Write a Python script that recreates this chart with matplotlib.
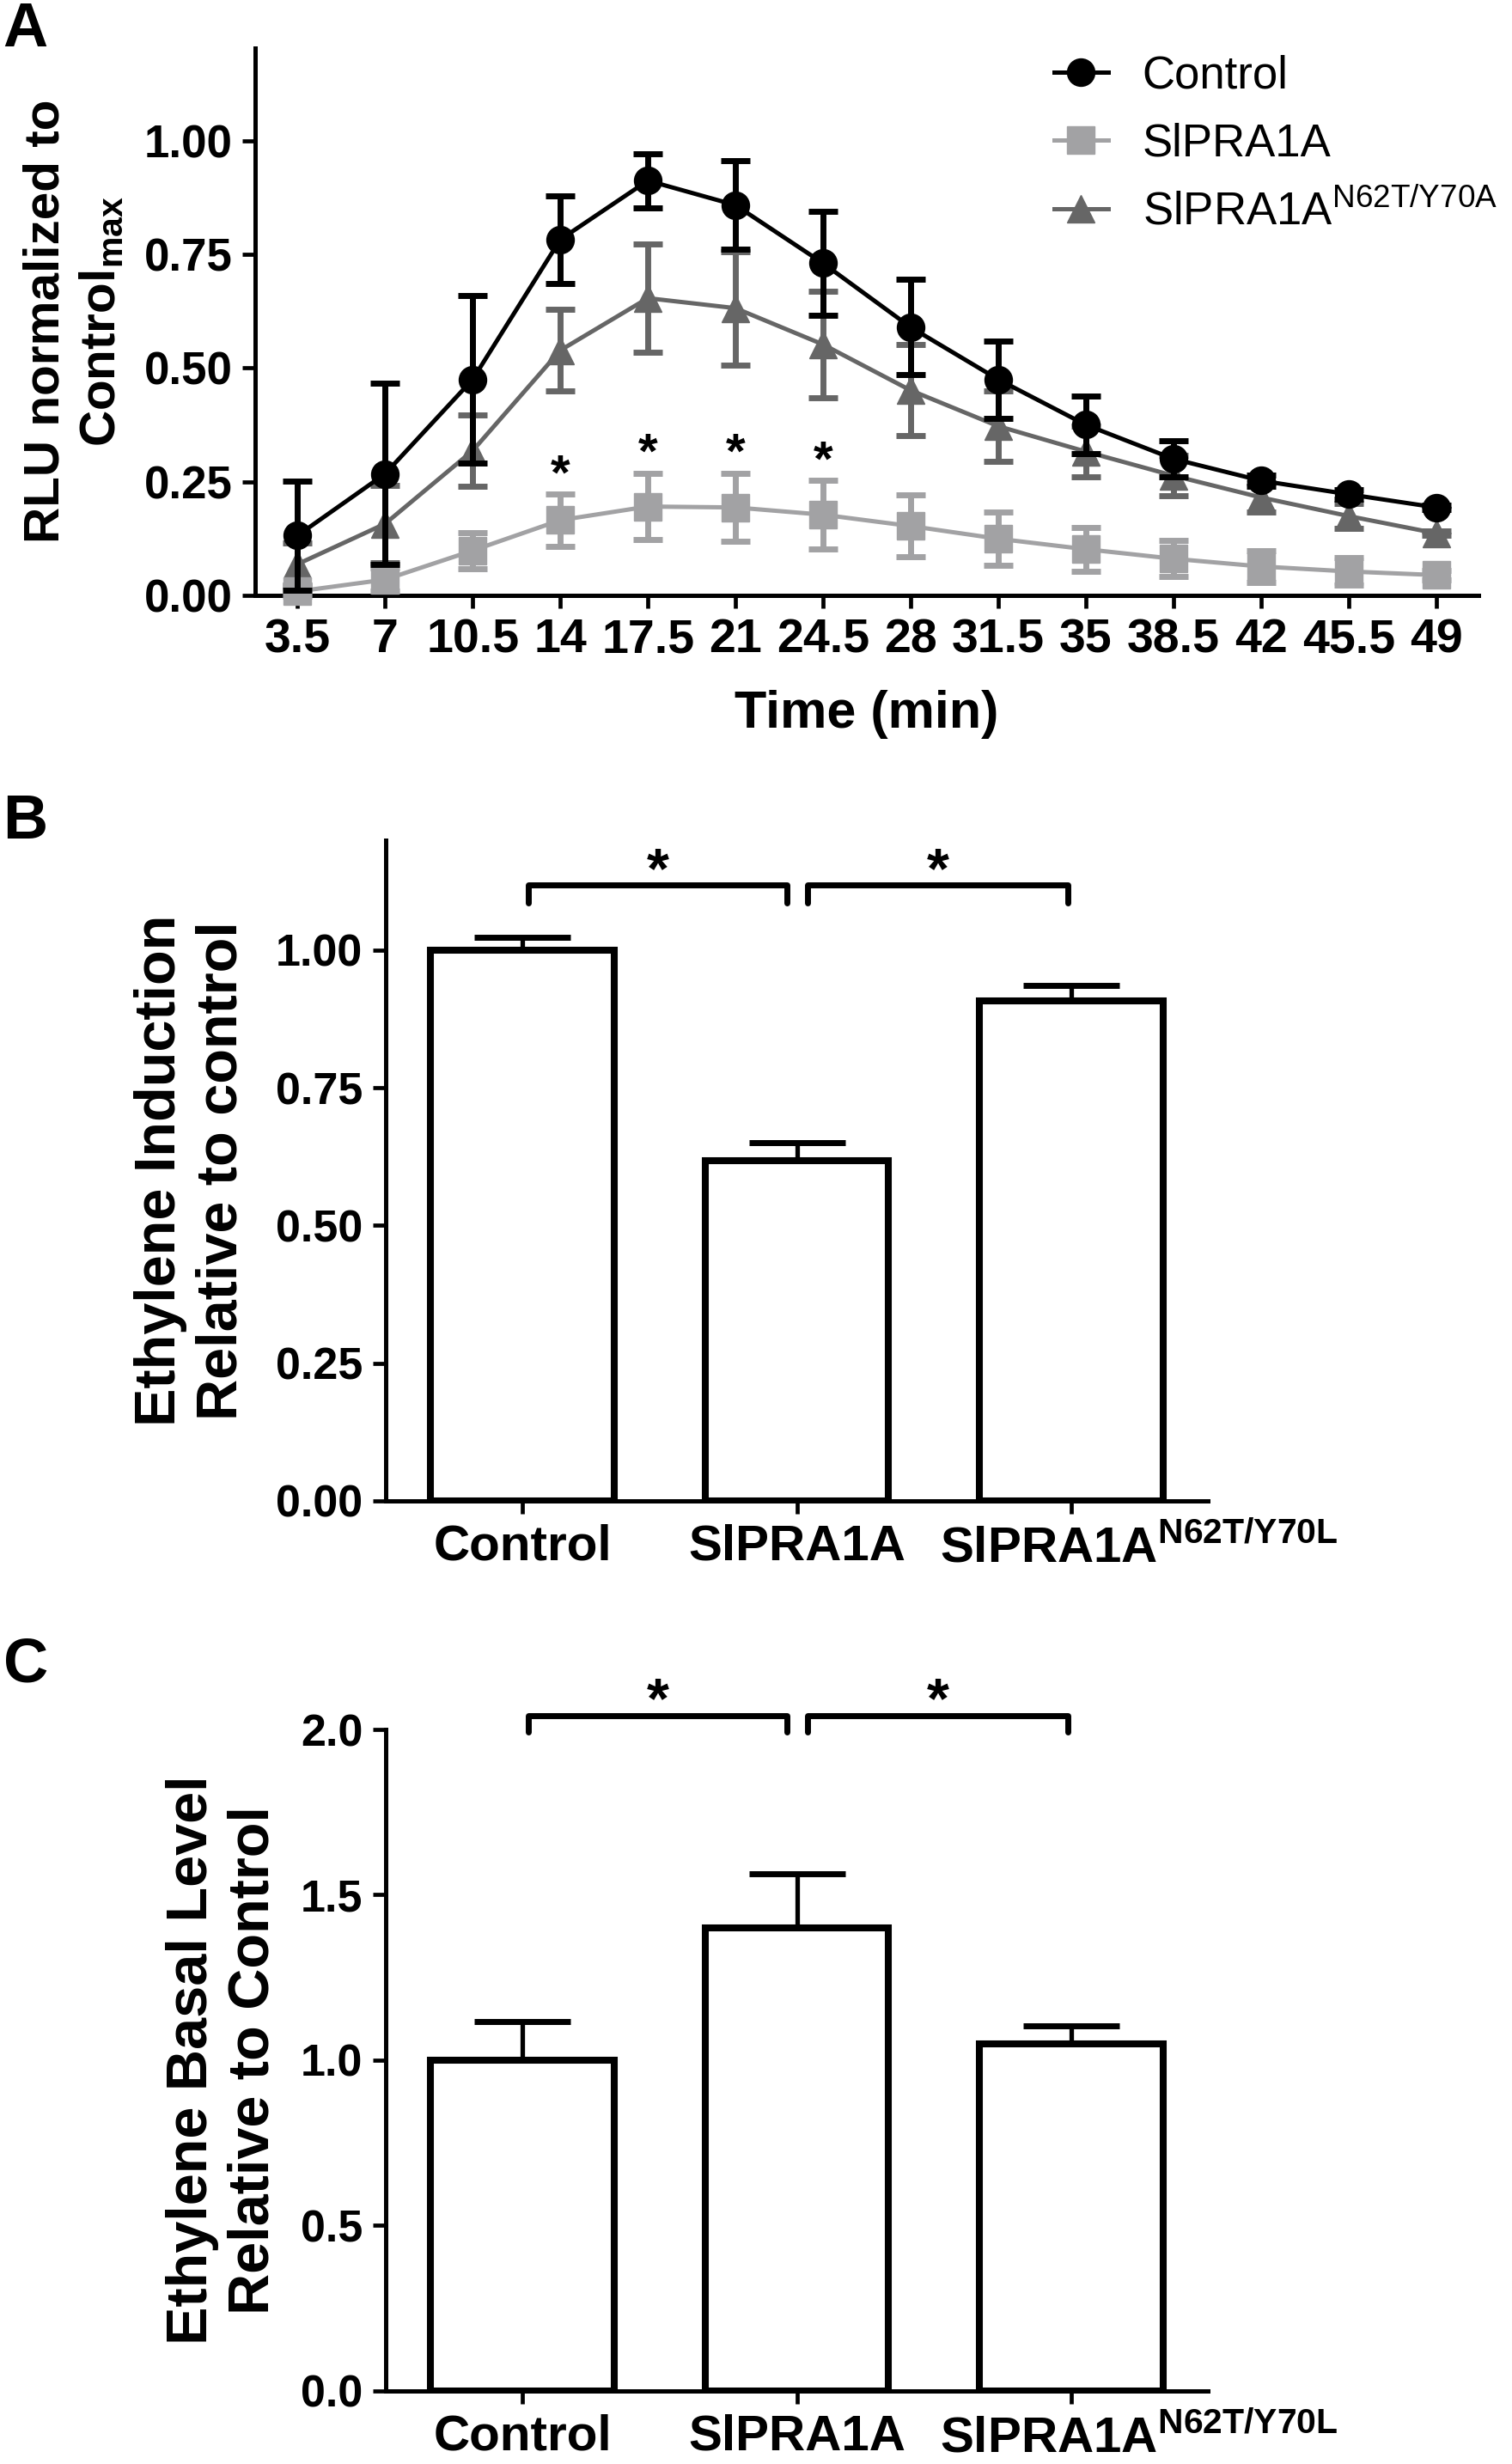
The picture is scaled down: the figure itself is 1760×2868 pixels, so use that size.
import matplotlib
matplotlib.use("Agg")
import matplotlib.pyplot as plt

plt.rcParams['font.family'] = ['Liberation Sans', 'DejaVu Sans']
plt.rcParams['mathtext.fontset'] = 'custom'
plt.rcParams['mathtext.rm'] = 'Liberation Sans'
plt.rcParams['mathtext.bf'] = 'Liberation Sans:bold'

# Panel A: luminescence time course
time_min = [3.5, 7, 10.5, 14, 17.5, 21, 24.5, 28, 31.5, 35, 38.5, 42, 45.5, 49]
time_labels = ['3.5', '7', '10.5', '14', '17.5', '21', '24.5', '28', '31.5',
               '35', '38.5', '42', '45.5', '49']
ctrl_mean = [0.131, 0.267, 0.475, 0.783, 0.913, 0.859, 0.731, 0.590, 0.475,
             0.375, 0.300, 0.252, 0.222, 0.193]
ctrl_err = [0.12, 0.20, 0.185, 0.097, 0.06, 0.097, 0.115, 0.105, 0.085,
            0.063, 0.04, 0.012, 0.01, 0.005]
pra_mean = [0.008, 0.034, 0.098, 0.165, 0.195, 0.193, 0.177, 0.152, 0.124,
            0.101, 0.080, 0.063, 0.052, 0.044]
pra_err = [0.01, 0.025, 0.04, 0.057, 0.073, 0.075, 0.075, 0.068, 0.058,
           0.048, 0.04, 0.035, 0.03, 0.01]
mut_mean = [0.068, 0.157, 0.318, 0.539, 0.654, 0.632, 0.552, 0.451, 0.372,
            0.316, 0.263, 0.215, 0.174, 0.136]
mut_err = [0.046, 0.085, 0.078, 0.09, 0.12, 0.125, 0.117, 0.10, 0.077,
           0.056, 0.045, 0.033, 0.028, 0.005]
star_times = [14, 17.5, 21, 24.5]

# Panels B and C: ethylene
groups = ['Control', 'SlPRA1A', r'SlPRA1A$^{\mathbf{N62T/Y70L}}$']
induction = [1.00, 0.617, 0.908]
induction_err = [0.024, 0.033, 0.028]
basal = [1.00, 1.40, 1.05]
basal_err = [0.118, 0.164, 0.053]

black = '#000000'
light = '#a2a2a4'
dark = '#666666'

fig = plt.figure(figsize=(17.6, 28.68), dpi=100)

# ---------------- A ----------------
axA = fig.add_axes([0.1686, 0.7585, 0.978 - 0.1686, 0.9805 - 0.7585])
series = [
    (mut_mean, mut_err, dark, '^', r'SlPRA1A$^{\mathrm{N62T/Y70A}}$', 2),
    (pra_mean, pra_err, light, 's', 'SlPRA1A', 3),
    (ctrl_mean, ctrl_err, black, 'o', 'Control', 4),
]
handles = {}
for mean, err, col, mk, lab, z in series:
    cont = axA.errorbar(time_min, mean, yerr=err, color=col, marker=mk,
                        ms=23, lw=3.6, elinewidth=5, capsize=12.5, capthick=5,
                        zorder=z, clip_on=False)
    handles[lab] = cont[0]

for t in star_times:
    i = time_min.index(t)
    axA.text(t, pra_mean[i] + pra_err[i] + 0.04, '*', ha='center', va='center',
             fontsize=42, fontweight='bold')

axA.set_xlim(1.8, 50.7)
axA.set_ylim(0, 1.205)
axA.set_xticks(time_min)
axA.set_xticklabels(time_labels)
axA.set_yticks([0, 0.25, 0.5, 0.75, 1.0])
axA.set_yticklabels(['0.00', '0.25', '0.50', '0.75', '1.00'])
axA.set_xlabel('Time (min)', fontsize=44, fontweight='bold', labelpad=23)
axA.set_ylabel('RLU normalized to\nControl$_{\\mathbf{max}}$', fontsize=42,
               fontweight='bold', linespacing=1.25)
axA.yaxis.set_label_coords(-0.106, 0.5)

order = ['Control', 'SlPRA1A', r'SlPRA1A$^{\mathrm{N62T/Y70A}}$']
axA.legend([handles[k] for k in order], order, loc='upper left',
           bbox_to_anchor=(0.697, 0.978), bbox_transform=fig.transFigure,
           frameon=False, fontsize=38, handlelength=1.2, handletextpad=0.75,
           labelspacing=0.55, borderpad=0, borderaxespad=0, numpoints=1)

# ---------------- B and C ----------------
def bar_panel(ax, vals, errs, ylim, yticks, fmt, bracket_y, ylabel, label_x):
    x = list(range(len(vals)))
    ax.bar(x, vals, width=0.67, color='white', edgecolor='black', linewidth=5.8,
           yerr=[[0] * len(errs), errs],
           error_kw=dict(elinewidth=3.8, capsize=40, capthick=5, ecolor='black'),
           zorder=2)
    ax.set_xlim(-0.5, 2.5)
    ax.set_ylim(*ylim)
    ax.set_yticks(yticks)
    ax.set_yticklabels([fmt % v for v in yticks])
    # last label sits right of its bar, as in the original
    ax.set_xticks(x)
    ax.set_xticklabels(groups[:2] + [''], fontsize=42, fontweight='bold')
    ax.set_xticks([2.249], minor=True)
    ax.set_xticklabels([groups[2]], minor=True, fontsize=42, fontweight='bold')
    ax.tick_params(axis='x', which='minor', length=0, pad=19)
    top, low, star = bracket_y
    for x0, x1 in [(0.02, 0.965), (1.04, 1.99)]:
        ax.plot([x0, x0, x1, x1], [low, top, top, low], color='black', lw=5,
                solid_capstyle='round', solid_joinstyle='round', clip_on=False)
        ax.text((x0 + x1) / 2, star, '*', ha='center', va='center',
                fontsize=48, fontweight='bold', clip_on=False)
    ax.set_ylabel(ylabel, fontsize=48, fontweight='bold', linespacing=1.2)
    ax.yaxis.set_label_coords(label_x, 0.5)


axB = fig.add_axes([0.255, 0.3909, 0.799 - 0.255, 0.6591 - 0.3909])
bar_panel(axB, induction, induction_err, (0, 1.2), [0, 0.25, 0.5, 0.75, 1.0],
          '%.2f', (1.118, 1.085, 1.14),
          'Ethylene Induction\nRelative to control', -0.166)

axC = fig.add_axes([0.255, 0.0297, 0.799 - 0.255, 0.2981 - 0.0297])
bar_panel(axC, basal, basal_err, (0, 2.0), [0, 0.5, 1.0, 1.5, 2.0],
          '%.1f', (2.042, 1.992, 2.08),
          'Ethylene Basal Level\nRelative to Control', -0.128)

for ax in (axA, axB, axC):
    for s in ('top', 'right'):
        ax.spines[s].set_visible(False)
    for s in ('left', 'bottom'):
        ax.spines[s].set_linewidth(3.6)
    ax.tick_params(which='major', direction='out', length=11, width=3.4, pad=8)
    for lab in ax.get_yticklabels():
        lab.set_fontsize(38)
        lab.set_fontweight('bold')
    for lab in ax.get_xticklabels():
        lab.set_fontweight('bold')
for lab in axA.get_xticklabels():
    lab.set_fontsize(40)
for lab in axB.get_yticklabels() + axC.get_yticklabels():
    lab.set_fontsize(37.5)

for letter, y in [('A', 0.9997), ('B', 0.678), ('C', 0.3358)]:
    fig.text(0.002, y, letter, fontsize=52, fontweight='bold', ha='left', va='top')

fig.savefig('out.png', dpi=100)
